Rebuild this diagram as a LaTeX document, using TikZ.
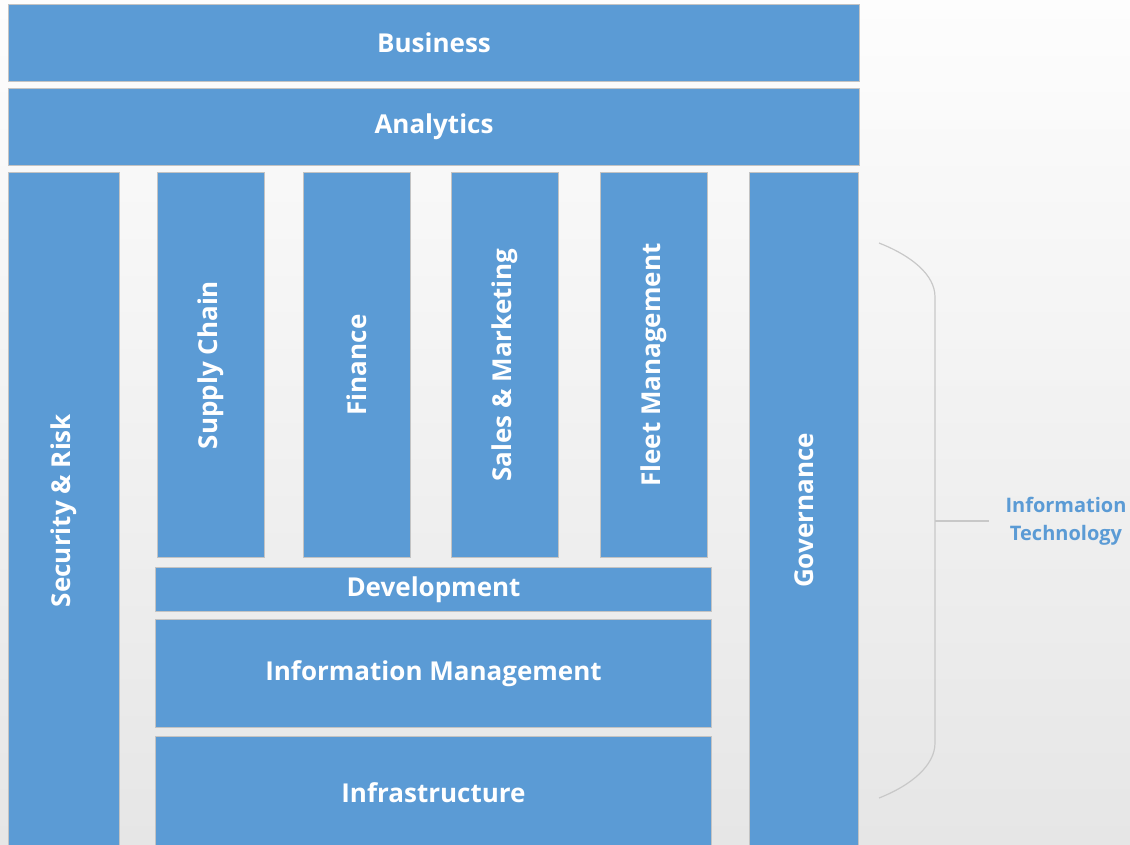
\documentclass[tikz,border=0pt]{standalone}
\usepackage{fontspec}
\setmainfont{Open Sans}
\usetikzlibrary{positioning}
\definecolor{boxblue}{HTML}{5B9BD5}
\definecolor{boxedge}{HTML}{C3C3C3}
\definecolor{bracegray}{HTML}{C8C8C8}
\definecolor{bgtop}{HTML}{FDFDFD}
\definecolor{bgbot}{HTML}{E6E6E6}
\tikzset{
  box/.style={draw=boxedge, line width=1pt, fill=boxblue, text=white,
    font=\fontsize{26}{30}\selectfont\bfseries, inner sep=0pt, anchor=north west},
  bracestyle/.style={draw=bracegray, line width=1.2pt},
  itlabel/.style={text=boxblue, font=\fontsize{20}{28}\selectfont\bfseries, align=center, inner sep=0pt}
}
\begin{document}
\begin{tikzpicture}[x=1pt,y=-1pt]
\useasboundingbox (0,0) rectangle (1130,844);
\shade[top color=bgtop, bottom color=bgbot] (0,0) rectangle (1130,844);
\clip (0,0) rectangle (1130,844);
% top bands
\node[box, minimum width=851, minimum height=77] (business) at (8,4) {Business};
\node[box, minimum width=851, minimum height=77] (analytics) at (8,88) {Analytics};
% side pillars
\node[box, minimum width=111, minimum height=676] (security) at (8,172) {\rotatebox{90}{Security \& Risk}};
\node[box, minimum width=109, minimum height=676] (governance) at (749,172) {\rotatebox{90}{Governance}};
% vertical columns
\node[box, minimum width=107, minimum height=385] (supply) at (157,172) {\rotatebox{90}{Supply Chain}};
\node[box, minimum width=107, minimum height=385] (finance) at (303,172) {\rotatebox{90}{Finance}};
\node[box, minimum width=107, minimum height=385] (sales) at (451,172) {\rotatebox{90}{Sales \& Marketing}};
\node[box, minimum width=107, minimum height=385] (fleet) at (600,172) {\rotatebox{90}{Fleet Management}};
% horizontal layers
\node[box, minimum width=556, minimum height=44] (development) at (155,567) {Development};
\node[box, minimum width=556, minimum height=108] (infomgmt) at (155,619) {Information Management};
\node[box, minimum width=556, minimum height=112] (infra) at (155,736) {Infrastructure};
% brace
\coordinate (bracetop) at (879,243);
\coordinate (bracebot) at (879,798);
\coordinate (bracemid) at (935,521);
\node[itlabel] (it) at (1066,521) {Information\\Technology};
\draw[bracestyle] (bracetop) .. controls (912,256) and (935,275) .. (935,297)
  -- (935,743) .. controls (935,765) and (912,785) .. (bracebot);
\draw[bracestyle] (bracemid) -- (it.west) [shorten >=16pt];
\end{tikzpicture}
\end{document}
